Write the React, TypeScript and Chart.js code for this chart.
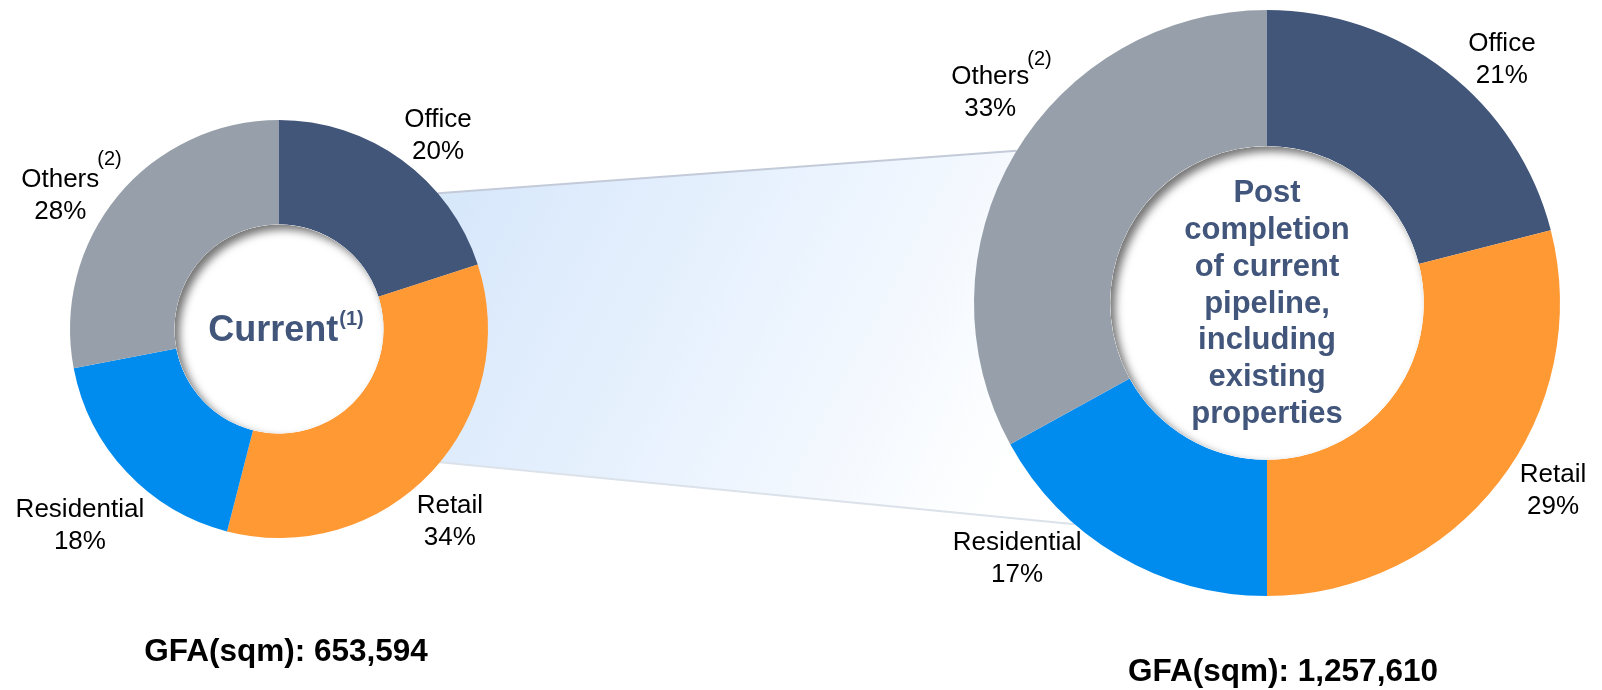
import React, { useEffect, useRef } from 'react';
import { Chart, registerables } from 'chart.js';

Chart.register(...registerables);

// ---- data ----
const categories = ['Office', 'Retail', 'Residential', 'Others'];
const categoryNotes = ['', '', '', '(2)'];
const currentShares = [20, 34, 18, 28];
const pipelineShares = [21, 29, 17, 33];
const gfaCurrent = 653594;
const gfaPipeline = 1257610;
const currentTitle = 'Current';
const currentNote = '(1)';
const pipelineTitleLines = ['Post', 'completion', 'of current', 'pipeline,', 'including', 'existing', 'properties'];

// ---- styles ----
const colors = ['#42567A', '#FF9933', '#008BEF', '#97A0AA'];
const FONT = '"Liberation Sans", Arial, Helvetica, sans-serif';
const TEXT_BLUE = '#42567C';
const W = 1602;
const H = 690;

type LabelPos = { angle: number; dist: number };

interface DonutOpts {
  values: number[];
  cutout: string;
  padding: { left: number; top: number; right: number; bottom: number };
  labelPos: LabelPos[];
  noteDy: number;
  drawCenter: (ctx: CanvasRenderingContext2D, cx: number, cy: number) => void;
  footer: { text: string; dx: number; dy: number };
}

function geom(chart: any) {
  const el: any = chart.getDatasetMeta(0).data[0];
  const p = el.getProps(['x', 'y', 'innerRadius', 'outerRadius'], true);
  return { cx: p.x as number, cy: p.y as number, ri: p.innerRadius as number, ro: p.outerRadius as number };
}

function makePlugin(o: DonutOpts) {
  return {
    id: 'decor',
    afterDatasetsDraw(chart: any) {
      const ctx: CanvasRenderingContext2D = chart.ctx;
      const { cx, cy, ri, ro } = geom(chart);

      // white hole with inset shadow
      ctx.save();
      ctx.beginPath();
      ctx.arc(cx, cy, ri, 0, Math.PI * 2);
      ctx.closePath();
      ctx.fillStyle = '#ffffff';
      ctx.fill();
      ctx.clip();
      ctx.beginPath();
      ctx.rect(cx - ro * 3, cy - ro * 3, ro * 6, ro * 6);
      ctx.arc(cx, cy, ri, 0, Math.PI * 2, true);
      ctx.shadowColor = 'rgba(0,0,0,0.55)';
      ctx.shadowBlur = 9;
      ctx.shadowOffsetX = 5;
      ctx.shadowOffsetY = 5;
      ctx.fillStyle = '#ffffff';
      ctx.fill();
      ctx.restore();

      // center text
      ctx.save();
      o.drawCenter(ctx, cx, cy);
      ctx.restore();

      // outside labels
      ctx.save();
      ctx.fillStyle = '#000000';
      ctx.textAlign = 'center';
      ctx.textBaseline = 'middle';
      o.values.forEach((v, i) => {
        const lp = o.labelPos[i];
        const a = (lp.angle * Math.PI) / 180;
        const d = lp.dist * ro;
        const x = cx + Math.sin(a) * d;
        const y = cy - Math.cos(a) * d;
        ctx.font = `26px ${FONT}`;
        ctx.textAlign = 'center';
        ctx.fillText(categories[i], x, y - 16);
        ctx.fillText(`${v}%`, x, y + 16);
        if (categoryNotes[i]) {
          const w = ctx.measureText(categories[i]).width;
          ctx.font = `20px ${FONT}`;
          ctx.textAlign = 'left';
          ctx.fillText(categoryNotes[i], x + w / 2 - 2, y - 16 + o.noteDy);
        }
      });
      // footer
      ctx.font = `bold 31.5px ${FONT}`;
      ctx.textAlign = 'center';
      ctx.fillText(o.footer.text, cx + o.footer.dx, cy + o.footer.dy);
      ctx.restore();
    },
  };
}

function makeConfig(o: DonutOpts): any {
  return {
    type: 'doughnut',
    data: {
      labels: categories,
      datasets: [
        {
          data: o.values,
          backgroundColor: colors,
          borderWidth: 0,
          hoverOffset: 0,
        },
      ],
    },
    options: {
      responsive: false,
      maintainAspectRatio: false,
      animation: false,
      events: [],
      cutout: o.cutout,
      rotation: 0,
      layout: { padding: o.padding },
      plugins: { legend: { display: false }, tooltip: { enabled: false } },
    },
    plugins: [makePlugin(o)],
  };
}

const leftOpts: DonutOpts = {
  values: currentShares,
  cutout: '50%',
  padding: { left: 70, top: 120, right: W - 488, bottom: H - 538 },
  labelPos: [
    { angle: 39.5, dist: 1.196 },
    { angle: 138.5, dist: 1.234 },
    { angle: 225.3, dist: 1.34 },
    { angle: 301.3, dist: 1.225 },
  ],
  noteDy: -21,
  drawCenter: (ctx, cx, cy) => {
    ctx.fillStyle = TEXT_BLUE;
    ctx.textBaseline = 'middle';
    ctx.textAlign = 'left';
    ctx.font = `bold 36px ${FONT}`;
    const w1 = ctx.measureText(currentTitle).width;
    ctx.font = `bold 20px ${FONT}`;
    const w2 = ctx.measureText(currentNote).width;
    const x0 = cx + 7 - (w1 + w2 + 1) / 2;
    ctx.font = `bold 36px ${FONT}`;
    ctx.fillText(currentTitle, x0, cy + 2);
    ctx.font = `bold 20px ${FONT}`;
    ctx.fillText(currentNote, x0 + w1 + 1, cy - 10);
  },
  footer: { text: `GFA(sqm): ${gfaCurrent.toLocaleString('en-US')}`, dx: 7, dy: 323 },
};

const rightOpts: DonutOpts = {
  values: pipelineShares,
  cutout: '53.5%',
  padding: { left: 974, top: 10, right: W - 1560, bottom: H - 596 },
  labelPos: [
    { angle: 44.0, dist: 1.154 },
    { angle: 123.3, dist: 1.168 },
    { angle: 224.3, dist: 1.221 },
    { angle: 307.2, dist: 1.186 },
  ],
  noteDy: -17,
  drawCenter: (ctx, cx, cy) => {
    ctx.fillStyle = TEXT_BLUE;
    ctx.textBaseline = 'middle';
    ctx.textAlign = 'center';
    ctx.font = `bold 31px ${FONT}`;
    const lh = 36.8;
    const mid = (pipelineTitleLines.length - 1) / 2;
    pipelineTitleLines.forEach((t, i) => {
      ctx.fillText(t, cx, cy + 1 + (i - mid) * lh);
    });
  },
  footer: { text: `GFA(sqm): ${gfaPipeline.toLocaleString('en-US')}`, dx: 16, dy: 369 },
};

function drawBand(bg: HTMLCanvasElement, left: any, right: any) {
  const ctx = bg.getContext('2d');
  if (!ctx) return;
  ctx.clearRect(0, 0, W, H);
  const L = geom(left);
  const R = geom(right);
  const pt = (g: { cx: number; cy: number; ro: number }, deg: number): [number, number] => {
    const a = (deg * Math.PI) / 180;
    return [g.cx + Math.sin(a) * g.ro, g.cy - Math.cos(a) * g.ro];
  };
  const lt = pt(L, 49.5);
  const lb = pt(L, 129.6);
  const rt = pt(R, 301.3);
  const rb = pt(R, 221);
  const grad = ctx.createLinearGradient(470, 190, 1010, 470);
  grad.addColorStop(0, '#D8E8FB');
  grad.addColorStop(0.55, '#ECF4FE');
  grad.addColorStop(1, '#FFFFFF');
  ctx.beginPath();
  ctx.moveTo(lt[0], lt[1]);
  ctx.lineTo(rt[0], rt[1]);
  ctx.lineTo(R.cx, R.cy);
  ctx.lineTo(rb[0], rb[1]);
  ctx.lineTo(lb[0], lb[1]);
  ctx.lineTo(L.cx, L.cy);
  ctx.closePath();
  ctx.fillStyle = grad;
  ctx.fill();
  ctx.lineWidth = 2;
  ctx.strokeStyle = '#C3CBD9';
  ctx.beginPath();
  ctx.moveTo(lt[0], lt[1]);
  ctx.lineTo(rt[0], rt[1]);
  ctx.stroke();
  ctx.strokeStyle = '#DCE2EA';
  ctx.beginPath();
  ctx.moveTo(lb[0], lb[1]);
  ctx.lineTo(rb[0], rb[1]);
  ctx.stroke();
}

export default function App() {
  const bgRef = useRef<HTMLCanvasElement | null>(null);
  const leftRef = useRef<HTMLCanvasElement | null>(null);
  const rightRef = useRef<HTMLCanvasElement | null>(null);

  useEffect(() => {
    document.body.style.margin = '0';
    if (!leftRef.current || !rightRef.current || !bgRef.current) return;
    const left = new Chart(leftRef.current, makeConfig(leftOpts));
    const right = new Chart(rightRef.current, makeConfig(rightOpts));
    drawBand(bgRef.current, left, right);
    return () => {
      left.destroy();
      right.destroy();
    };
  }, []);

  const cs: React.CSSProperties = { position: 'absolute', left: 0, top: 0, width: W, height: H };
  return (
    <div style={{ position: 'relative', width: W, height: H, background: '#ffffff', overflow: 'hidden' }}>
      <canvas ref={bgRef} width={W} height={H} style={cs} />
      <canvas ref={leftRef} width={W} height={H} style={cs} />
      <canvas ref={rightRef} width={W} height={H} style={cs} />
    </div>
  );
}
